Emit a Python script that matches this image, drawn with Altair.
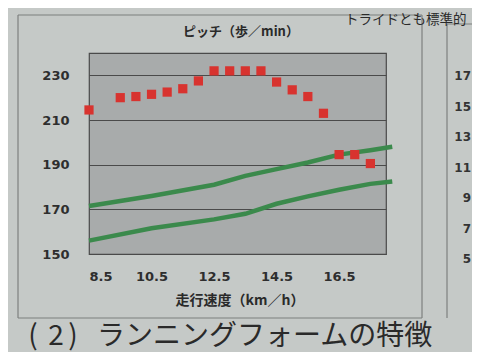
import altair as alt
import pandas as pd

# red squares: pitch (steps/min) by running speed (km/h)
speed_pts = [8.5, 9.5, 10.0, 10.5, 11.0, 11.5, 12.0, 12.5, 13.0, 13.5, 14.0, 14.5, 15.0, 15.5, 16.0, 16.5, 17.0, 17.5]
pitch = [214.5, 220, 220.5, 221.5, 222.5, 224, 227.5, 232, 232, 232, 232, 227, 223.5, 220.5, 213, 194.5, 194.5, 190.5]

# two green reference lines
line_speed = [8.5, 10.5, 12.5, 13.5, 14.5, 15.5, 16.5, 17.5, 18.2]
upper_line = [171.5, 176, 181, 185, 188, 191, 194.5, 196.5, 198]
lower_line = [156, 161.5, 165.5, 168, 172.5, 175.8, 178.8, 181.4, 182.5]

x_ticks = [8.5, 10.5, 12.5, 14.5, 16.5]
y_ticks = [150, 170, 190, 210, 230]

title_text = "ピッチ（歩／min）"
x_title = "走行速度（km／h）"
heading_parts = ["(", "2", ")"]
heading_text = "ランニングフォームの特徴"
top_right_text = "トライドとも標準的"
right_panel_labels = ["17", "15", "13", "11", "9", "7", "5"]

FONT = "Noto Sans CJK JP"
NUM_FONT = "DejaVu Sans"
BG = "#c5c9c7"
PLOT_BG = "#a8abab"
RED = "#d8332f"
GREEN = "#3b8a4c"

pts = pd.DataFrame({"speed": speed_pts, "pitch": pitch})
lines = pd.DataFrame({
    "speed": line_speed * 2,
    "val": upper_line + lower_line,
    "series": ["upper"] * len(line_speed) + ["lower"] * len(line_speed),
})

xs = alt.Scale(domain=[8.5, 18], nice=False, zero=False)
ys = alt.Scale(domain=[150, 240], nice=False, zero=False)

x_axis = alt.Axis(values=x_ticks, format=".1f", title=None, grid=False, ticks=False,
                  labelPadding=16, labelFontSize=13, labelFontWeight="bold",
                  labelColor="#2e2e2e", labelFont=NUM_FONT, domain=False)
y_axis = alt.Axis(values=y_ticks, title=None, grid=True, gridColor="#4a4a4a",
                  gridWidth=1, ticks=False, labelPadding=20, labelFontSize=13,
                  labelFontWeight="bold", labelColor="#2e2e2e", labelFont=NUM_FONT,
                  domain=False)

base_lines = alt.Chart(lines).mark_line(color=GREEN, strokeWidth=4.5, clip=False).encode(
    x=alt.X("speed:Q", scale=xs, axis=x_axis),
    y=alt.Y("val:Q", scale=ys, axis=y_axis),
    detail="series:N",
)

squares = alt.Chart(pts).mark_square(color=RED, size=85, opacity=1).encode(
    x=alt.X("speed:Q", scale=xs),
    y=alt.Y("pitch:Q", scale=ys),
)

# texts positioned relative to the plot area origin (page 89, 53)
def txt(s, x, y, size, weight="normal", align="center", baseline="middle", color="#2a2a2a"):
    return alt.Chart(pd.DataFrame({"t": [s]})).mark_text(
        font=FONT, fontSize=size, fontWeight=weight, align=align, baseline=baseline,
        color=color, clip=False,
    ).encode(text="t:N", x=alt.value(x), y=alt.value(y))

title = txt(title_text, 152, -21, 13, "bold")
xtitle = txt(x_title, 151, 248, 14, "bold")
hp = [txt(heading_parts[0], -56, 284, 28),
      txt(heading_parts[1], -33, 284, 28),
      txt(heading_parts[2], -16, 284, 28)]
h2 = txt(heading_text, 8, 284, 28, align="left")
tr = txt(top_right_text, 256, -33, 13.5, align="left")

rp = pd.DataFrame({"t": right_panel_labels,
                   "yy": [23 + 30.5 * i for i in range(len(right_panel_labels))]})
right_labels = alt.Chart(rp).mark_text(
    font=NUM_FONT, fontSize=12, fontWeight="bold", align="right", baseline="middle",
    color="#333333", clip=False,
).encode(text="t:N", x=alt.value(382), y=alt.Y("yy:Q", scale=None))

def rule(x1, y1, x2, y2, color="#7d807f", w=1.2):
    return alt.Chart(pd.DataFrame({"a": [0]})).mark_rule(color=color, strokeWidth=w, clip=False).encode(
        x=alt.value(x1), x2=alt.value(x2), y=alt.value(y1), y2=alt.value(y2))

frame = [
    rule(-71, -38, 333, -38),
    rule(-71, -38, -71, 265),
    rule(333, -38, 333, 265),
    rule(-71, 265, 333, 265),
    rule(358, -29, 400, -29),
    rule(358, -29, 358, 265),
]

chart = alt.layer(
    *frame, base_lines, squares, title, xtitle, *hp, h2, tr, right_labels
).properties(
    width=297, height=201,
    padding={"left": 81, "top": 45, "right": 86, "bottom": 98},
    autosize=alt.AutoSizeParams(type="none"),
    background=BG,
).configure_view(
    fill=PLOT_BG, stroke="#4a4a4a", strokeWidth=1.2,
)

chart.save("out.html", embed_options={"renderer": "svg", "actions": False})
